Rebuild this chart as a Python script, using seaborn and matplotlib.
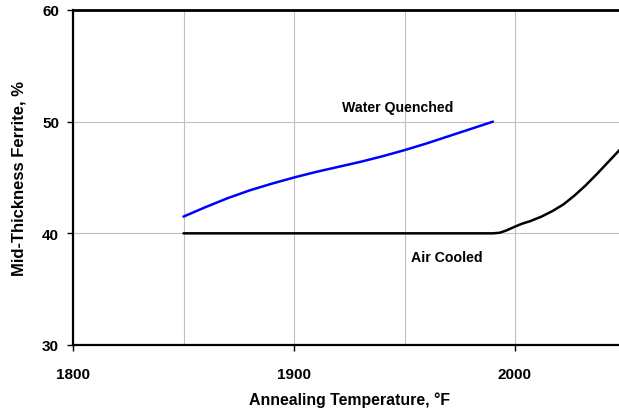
import matplotlib
matplotlib.use("Agg")
import matplotlib.pyplot as plt
import seaborn as sns
import pandas as pd
from matplotlib.ticker import MultipleLocator

sns.set_style("white")
plt.rcParams['font.family'] = ['Liberation Sans', 'DejaVu Sans']
for k in ["text.color", "axes.labelcolor", "xtick.color", "ytick.color"]:
    plt.rcParams[k] = "black"

# Data
wq_temp = [1850, 1860, 1870, 1880, 1890, 1900, 1910, 1920, 1930, 1940, 1950, 1960, 1970, 1980, 1990]
wq_ferrite = [41.5, 42.35, 43.15, 43.85, 44.45, 45.0, 45.5, 45.95, 46.4, 46.9, 47.45, 48.05, 48.7, 49.35, 50.0]
ac_temp = [1850, 1900, 1950, 1990, 1993, 1996, 2000, 2003, 2007, 2012, 2017, 2022, 2027, 2032, 2037, 2042, 2047, 2050]
ac_ferrite = [40.0, 40.0, 40.0, 40.0, 40.05, 40.25, 40.6, 40.85, 41.1, 41.5, 42.0, 42.6, 43.4, 44.3, 45.3, 46.35, 47.4, 48.0]

wq = pd.DataFrame({"temp": wq_temp, "ferrite": wq_ferrite})
ac = pd.DataFrame({"temp": ac_temp, "ferrite": ac_ferrite})

fig = plt.figure(figsize=(6.19, 4.10), dpi=100)
ax = fig.add_axes([73/619, 64/410, 552.5/619, 335/410])

sns.lineplot(data=wq, x="temp", y="ferrite", color="#0000ff", lw=1.8, ax=ax)
sns.lineplot(data=ac, x="temp", y="ferrite", color="black", lw=1.8, ax=ax)

ax.set_xlim(1800, 2050)
ax.set_ylim(30, 60)
ax.xaxis.set_major_locator(MultipleLocator(100))
ax.xaxis.set_minor_locator(MultipleLocator(50))
ax.yaxis.set_major_locator(MultipleLocator(10))
ax.grid(True, which="both", axis="x", color="#c0c0c0", lw=0.8)
ax.grid(True, which="major", axis="y", color="#c0c0c0", lw=0.8)
ax.set_axisbelow(True)

for s in ["left", "bottom", "top"]:
    ax.spines[s].set_color("black")
    ax.spines[s].set_linewidth(1.6)
ax.spines["top"].set_linewidth(2.0)
ax.spines["right"].set_visible(False)

ax.tick_params(axis="both", which="major", direction="out", width=1.0,
               color="black", labelsize=11, bottom=True, left=True)
ax.tick_params(axis="x", which="major", length=4, pad=12)
ax.tick_params(axis="y", which="major", length=4, pad=6)
ax.tick_params(axis="x", which="minor", length=0)
for lab in ax.get_xticklabels() + ax.get_yticklabels():
    lab.set_fontweight("bold")

ax.set_xlabel("Annealing Temperature, °F", fontsize=11.4, fontweight="bold", labelpad=7)
ax.set_ylabel("Mid-Thickness Ferrite, %", fontsize=12, fontweight="bold", labelpad=11)

ax.text(1947, 51.35, "Water Quenched", fontsize=10.2, fontweight="bold", ha="center", va="center")
ax.text(1969, 37.9, "Air Cooled", fontsize=10.2, fontweight="bold", ha="center", va="center")

fig.savefig("out.png", dpi=100)
